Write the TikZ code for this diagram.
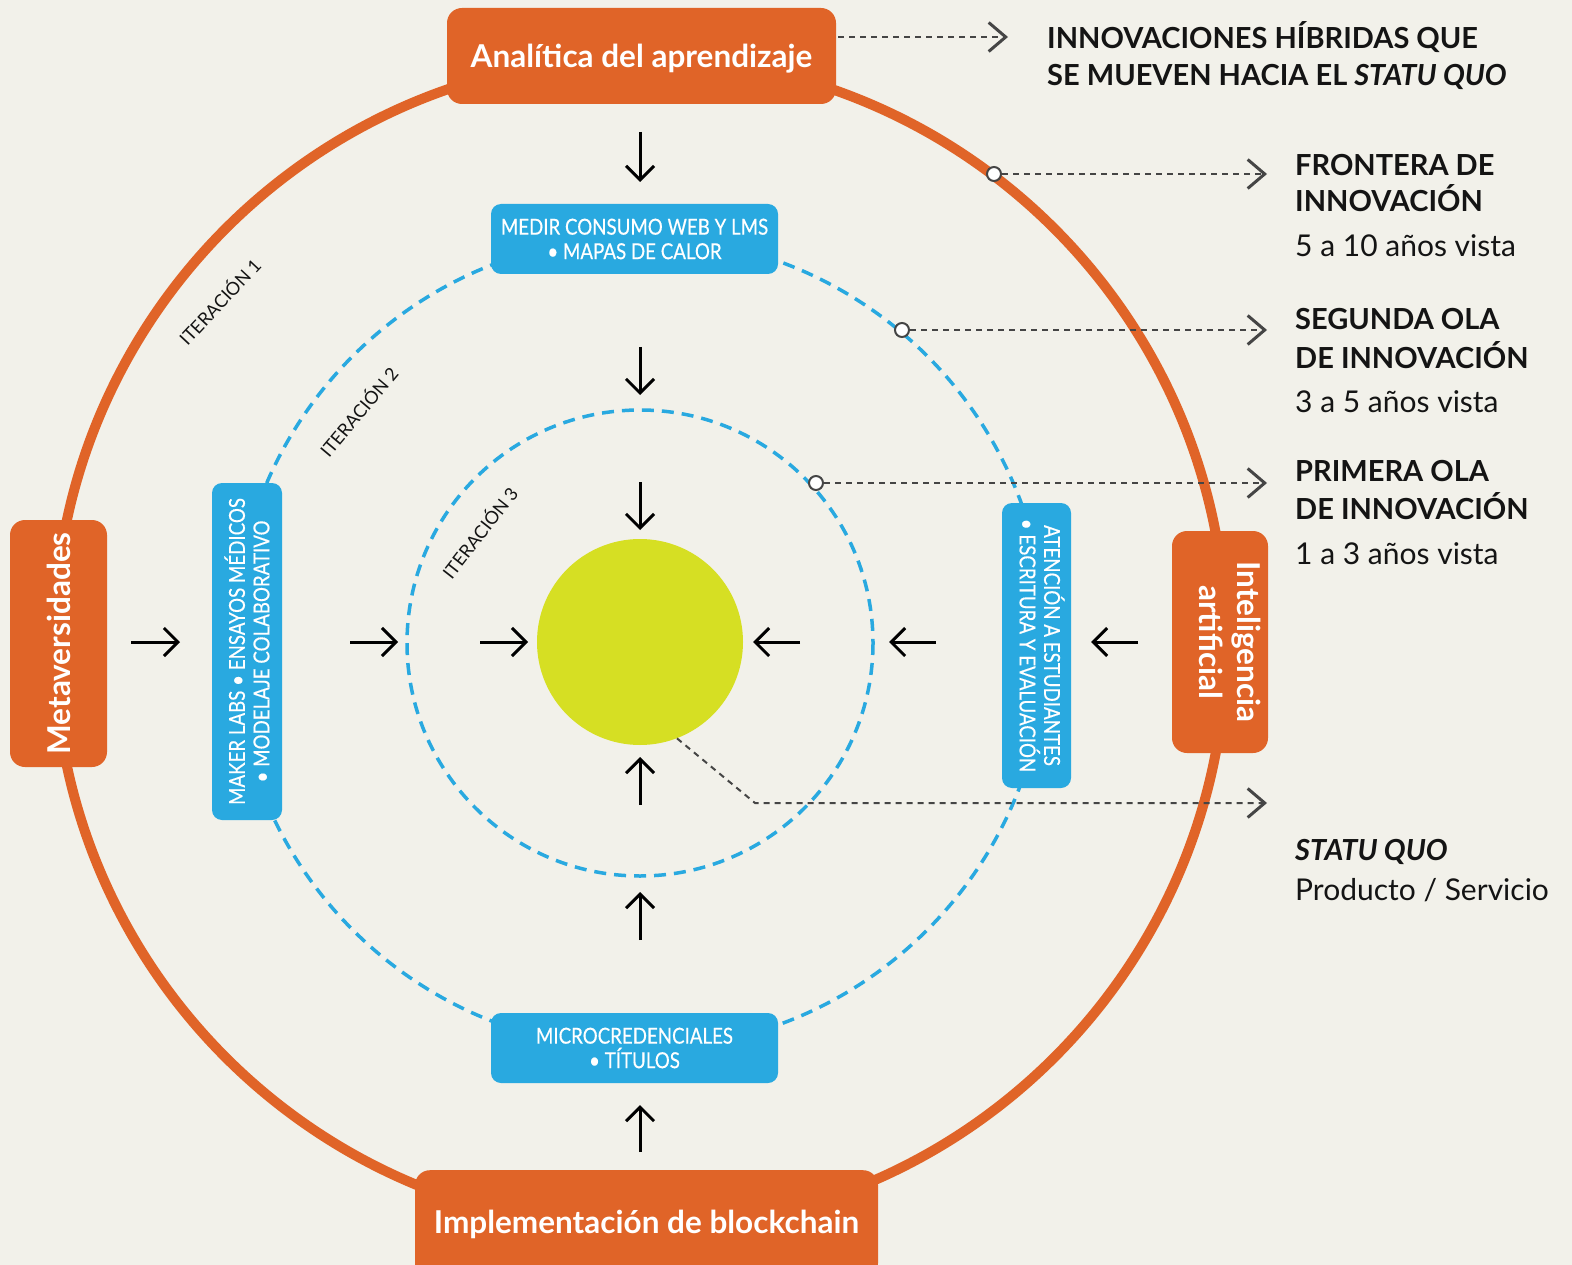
\documentclass[tikz,border=0pt]{standalone}
\usepackage{fontspec}
\setmainfont{Lato}
\newfontfamily\condfont[FakeStretch=0.85,FakeBold=0.4]{Lato}
\usetikzlibrary{arrows.meta}
\definecolor{bg}{HTML}{F2F1EA}
\definecolor{orng}{HTML}{E06428}
\definecolor{blu}{HTML}{29A9E0}
\definecolor{grn}{HTML}{D6DF23}
\definecolor{dgray}{HTML}{454545}
\definecolor{ink}{HTML}{141414}
\begin{document}
\begin{tikzpicture}[x=1pt,y=-1pt,
  obox/.style={fill=orng, rounded corners=15pt, text=white, inner sep=0pt,
    font=\bfseries\fontsize{31.5}{38}\selectfont, align=center},
  otext/.style={text=white, inner sep=0pt, font=\bfseries\fontsize{31.5}{38}\selectfont, align=center},
  bbox/.style={fill=blu, rounded corners=10pt, text=white, inner sep=0pt,
    font=\condfont\fontsize{22}{24.5}\selectfont, align=center},
  btext/.style={text=white, inner sep=0pt, font=\condfont\fontsize{22}{24.5}\selectfont, align=center},
  barrow/.style={line width=3pt, -{Straight Barb[length=14pt,width=28pt]}},
  garrow/.style={draw=dgray, line width=2pt, dash pattern=on 6pt off 5pt,
    -{Straight Barb[length=17pt,width=29pt,line width=3pt]}},
  marker/.style={circle, fill=white, draw=dgray, line width=2pt, minimum size=14pt, inner sep=0pt},
  iter/.style={text=ink, inner sep=0pt, font=\fontsize{18}{18}\selectfont},
  rtitle/.style={text=ink, inner sep=0pt, anchor=base west, font=\bfseries\fontsize{29}{34}\selectfont},
  rsub/.style={text=ink, inner sep=0pt, anchor=base west, font=\fontsize{30}{34}\selectfont},
  bdash/.style={draw=blu, line width=3.5pt, dash pattern=on 12pt off 8pt}
]
\useasboundingbox (0,0) rectangle (1572,1265);
\fill[bg] (0,0) rectangle (1572,1265);
\clip (0,0) rectangle (1572,1265);

\coordinate (c) at (640,643);
% circles
\draw[orng, line width=10pt] (c) circle[radius=586];
\draw[bdash] (c) circle[radius=406];
\draw[bdash] (c) circle[radius=233];

% green core
\node[circle, fill=grn, minimum size=206pt, inner sep=0pt] (sq) at (640,642) {};

% orange boxes
\node[obox, minimum width=389pt, minimum height=96pt] (ana) at (641.5,56) {};
\node[otext] (anat) at (641.5,59) {Analítica del aprendizaje};
\node[obox, rotate=90, minimum width=247pt, minimum height=97pt] (meta) at (58.5,643.5) {Metaversidades};
\node[obox, rotate=-90, minimum width=222pt, minimum height=96pt] (ia) at (1220,642) {};
\node[otext, rotate=-90] (iat) at (1230,642) {Inteligencia\\artificial};
\fill[orng] (415,1200) rectangle (878,1280);
\node[obox, anchor=north, minimum width=463pt, minimum height=108pt] (blk) at (646.5,1170) {Implementación de blockchain};

% blue boxes
\node[bbox, minimum width=287pt, minimum height=70pt] (medir) at (634.5,239) {MEDIR CONSUMO WEB Y LMS\\• MAPAS DE CALOR};
\node[bbox, rotate=90, minimum width=337pt, minimum height=70pt] (maker) at (247,651.5) {MAKER LABS • ENSAYOS MÉDICOS\\• MODELAJE COLABORATIVO};
\node[bbox, rotate=-90, minimum width=285pt, minimum height=69pt] (aten) at (1036.5,645.5) {};
\node[btext, rotate=-90] (atent) at (1042,645.5) {ATENCIÓN A ESTUDIANTES\\• ESCRITURA Y EVALUACIÓN};
\node[bbox, minimum width=287pt, minimum height=70pt] (micro) at (634.5,1048) {MICROCREDENCIALES\\• TÍTULOS};

% iteration labels
\node[iter, rotate=47] (it1) at (219,301) {ITERACIÓN 1};
\node[iter, rotate=50] (it2) at (358,411) {ITERACIÓN 2};
\node[iter, rotate=52] (it3) at (479,532) {ITERACIÓN 3};

% black arrows
\coordinate (d1s) at (640,132); \coordinate (d1e) at (640,182);
\coordinate (d2s) at (640,347); \coordinate (d2e) at (640,395);
\coordinate (d3s) at (640,482); \coordinate (d3e) at (640,530);
\coordinate (u1s) at (640,805); \coordinate (u1e) at (640,757);
\coordinate (u2s) at (640,940); \coordinate (u2e) at (640,892);
\coordinate (u3s) at (640,1152); \coordinate (u3e) at (640,1105);
\coordinate (r1s) at (131,642); \coordinate (r1e) at (180,642);
\coordinate (r2s) at (350,642); \coordinate (r2e) at (398,642);
\coordinate (r3s) at (480,642); \coordinate (r3e) at (528,642);
\coordinate (l1s) at (800,642); \coordinate (l1e) at (753,642);
\coordinate (l2s) at (936,642); \coordinate (l2e) at (889,642);
\coordinate (l3s) at (1138,642); \coordinate (l3e) at (1091,642);
\foreach \a in {d1,d2,d3,u1,u2,u3,r1,r2,r3,l1,l2,l3}
  \draw[barrow] (\a s) -- (\a e);

% gray dashed pointers
\coordinate (h0) at (838,37); \coordinate (h1) at (1008,37);
\draw[garrow] (h0) -- (h1);
\node[marker] (m1) at (994,174) {};
\node[marker] (m2) at (902,330) {};
\node[marker] (m3) at (816,483) {};
\coordinate (t1) at (1267,174);
\coordinate (t2) at (1267,330);
\coordinate (t3) at (1267,483);
\draw[garrow] (m1) -- (t1);
\draw[garrow] (m2) -- (t2);
\draw[garrow] (m3) -- (t3);
\coordinate (k) at (755,803); \coordinate (t4) at (1267,803);
\draw[garrow] (sq.-69) -- (k) -- (t4);

% right labels
\node[rtitle] (l0a) at (1047,49) {INNOVACIONES HÍBRIDAS QUE};
\node[rtitle] (l0b) at (1047,86) {SE MUEVEN HACIA EL \textit{STATU QUO}};
\node[rtitle] (l1a) at (1295,176) {FRONTERA DE};
\node[rtitle] (l1b) at (1295,212) {INNOVACIÓN};
\node[rsub] (l1c) at (1295,257) {5 a 10 años vista};
\node[rtitle] (l2a) at (1295,330) {SEGUNDA OLA};
\node[rtitle] (l2b) at (1295,368) {DE INNOVACIÓN};
\node[rsub] (l2c) at (1295,412) {3 a 5 años vista};
\node[rtitle] (l3a) at (1295,481) {PRIMERA OLA};
\node[rtitle] (l3b) at (1295,519) {DE INNOVACIÓN};
\node[rsub] (l3c) at (1295,564) {1 a 3 años vista};
\node[rtitle] (l4a) at (1295,860) {\textit{STATU QUO}};
\node[rsub] (l4b) at (1295,900) {Producto / Servicio};
\end{tikzpicture}
\end{document}
